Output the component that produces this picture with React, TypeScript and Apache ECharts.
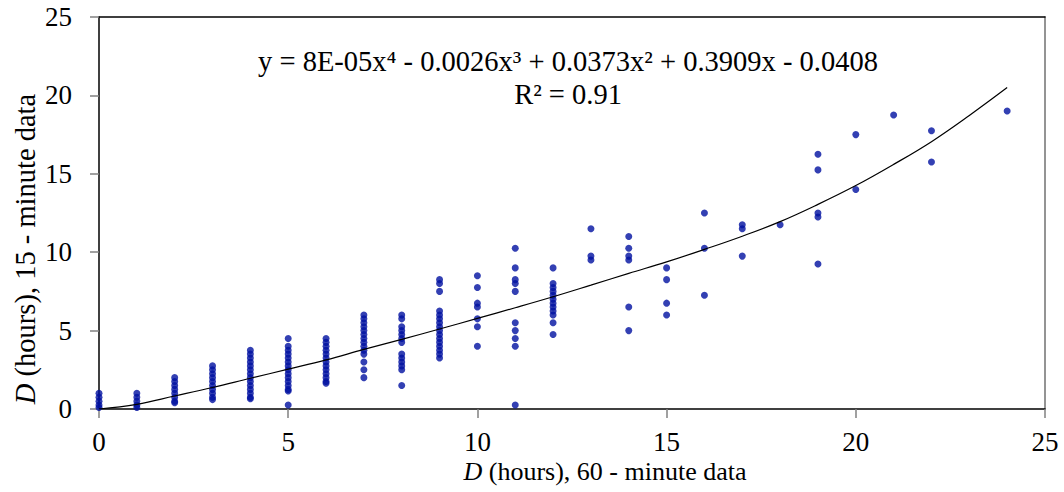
import React, { useEffect, useRef } from "react";
import * as echarts from "echarts";

const FONT = "Liberation Serif";

// x positions of the point columns (60-minute data, hours)
const columnX = [0, 1, 2, 3, 4, 5, 6, 7, 8, 9, 10, 11, 12, 13, 14, 15, 16, 17, 18, 19, 20, 21, 22, 24];
// y values in each column (15-minute data, hours)
const columnY = [
  [0.1, 0.25, 0.5, 0.75, 1.0],
  [0.1, 0.25, 0.5, 0.75, 1.0],
  [0.4, 0.5, 0.75, 1.0, 1.25, 1.5, 1.75, 2.0],
  [0.6, 0.75, 1.0, 1.25, 1.5, 1.75, 2.0, 2.25, 2.5, 2.75],
  [0.65, 0.75, 1.0, 1.25, 1.5, 1.75, 2.0, 2.25, 2.5, 2.75, 3.0, 3.25, 3.5, 3.75],
  [0.25, 1.15, 1.25, 1.5, 1.75, 2.0, 2.25, 2.5, 2.75, 3.0, 3.25, 3.5, 3.75, 4.0, 4.5],
  [1.65, 1.75, 2.0, 2.25, 2.5, 2.75, 3.0, 3.25, 3.5, 3.75, 4.0, 4.25, 4.5],
  [2.0, 2.5, 3.0, 3.5, 3.75, 4.0, 4.25, 4.5, 4.75, 5.0, 5.25, 5.5, 5.75, 6.0],
  [1.5, 2.5, 2.75, 3.0, 3.25, 3.5, 4.25, 4.5, 4.75, 5.0, 5.25, 5.75, 6.0],
  [3.25, 3.5, 3.75, 4.0, 4.25, 4.5, 4.75, 5.0, 5.25, 5.5, 5.75, 6.0, 6.25, 7.5, 8.0, 8.25],
  [4.0, 5.25, 5.75, 6.5, 6.75, 7.75, 8.5],
  [0.25, 4.0, 4.5, 5.0, 5.5, 7.5, 8.0, 8.25, 9.0, 10.25],
  [4.75, 5.5, 6.0, 6.25, 6.5, 6.75, 7.0, 7.25, 7.5, 7.75, 8.0, 9.0],
  [9.5, 9.75, 11.5],
  [5.0, 6.5, 9.5, 9.75, 10.25, 11.0],
  [6.0, 6.75, 8.25, 9.0],
  [7.25, 10.25, 12.5],
  [9.75, 11.5, 11.75],
  [11.75],
  [9.25, 12.25, 12.5, 15.25, 16.25],
  [14.0, 17.5],
  [18.75],
  [15.75, 17.75],
  [19.0],
];

// trend line
const trendX = [0, 1, 2, 3, 4, 5, 6, 7, 8, 9, 10, 11, 12, 13, 14, 15, 16, 17, 18, 19, 20, 21, 22, 23, 24];
const trendY = [0, 0.3, 0.83, 1.37, 1.96, 2.54, 3.13, 3.8, 4.44, 5.1, 5.78, 6.46, 7.16, 7.9, 8.65, 9.38, 10.18, 11.02, 11.95, 13.05, 14.25, 15.6, 17.05, 18.72, 20.5];

const equationText = "{e|y = 8E-05x\u2074 - 0.0026x\u00b3 + 0.0373x\u00b2 + 0.3909x - 0.0408}";
const r2Text = "{e|R\u00b2 = 0.91}";
const xTitle = "{i|D}{n| (hours), 60 - minute data}";
const yTitle = "{yi|D}{yn| (hours), 15 - minute data}";

export default function App() {
  const ref = useRef<HTMLDivElement>(null);
  useEffect(() => {
    if (!ref.current) return;
    const chart = echarts.init(ref.current, undefined, { renderer: "svg" });
    const points: number[][] = [];
    columnX.forEach((x, i) => columnY[i].forEach((y) => points.push([x, y])));
    const trend = trendX.map((x, i) => [x, trendY[i]]);
    const tickRich = { t: { fontFamily: FONT, fontSize: 27, color: "#000", lineHeight: 22 } };
    const axisLabel = {
      color: "#000",
      fontFamily: FONT,
      fontSize: 27,
      formatter: (v: number) => `{t|${v}}`,
      rich: tickRich,
    };
    const textRich = {
      i: { fontFamily: FONT, fontSize: 26, fontStyle: "italic", fill: "#000", color: "#000", lineHeight: 22 },
      n: { fontFamily: FONT, fontSize: 26, fill: "#000", color: "#000", lineHeight: 22 },
      yi: { fontFamily: FONT, fontSize: 28.5, fontStyle: "italic", fill: "#000", color: "#000", lineHeight: 26 },
      yn: { fontFamily: FONT, fontSize: 28.5, fill: "#000", color: "#000", lineHeight: 26 },
      e: { fontFamily: FONT, fontSize: 28.5, fill: "#000", color: "#000", lineHeight: 28 },
    };
    const textStyle = (text: string) => ({
      text,
      fontFamily: FONT,
      fontSize: 26,
      fill: "#000",
      align: "center",
      verticalAlign: "middle",
      rich: textRich,
    });
    chart.setOption({
      animation: false,
      backgroundColor: "#fff",
      textStyle: { fontFamily: FONT },
      grid: { left: 99, right: 19, top: 17, bottom: 83, show: false },
      xAxis: [
        {
          type: "value",
          min: 0,
          max: 25,
          interval: 5,
          splitLine: { show: false },
          axisLine: { show: true, onZero: false, lineStyle: { color: "#000", width: 1.5 } },
          axisTick: { show: true, length: 9, lineStyle: { color: "#808080", width: 1.5 } },
          axisLabel: { ...axisLabel, margin: 22 },
        },
        {
          type: "value",
          position: "top",
          min: 0,
          max: 25,
          splitLine: { show: false },
          axisLine: { show: true, onZero: false, lineStyle: { color: "#000", width: 1.5 } },
          axisTick: { show: false },
          axisLabel: { show: false },
        },
      ],
      yAxis: [
        {
          type: "value",
          min: 0,
          max: 25,
          interval: 5,
          splitLine: { show: false },
          axisLine: { show: true, onZero: false, lineStyle: { color: "#000", width: 1.5 } },
          axisTick: { show: true, length: 9, lineStyle: { color: "#808080", width: 1.5 } },
          axisLabel: { ...axisLabel, margin: 27 },
        },
        {
          type: "value",
          position: "right",
          min: 0,
          max: 25,
          splitLine: { show: false },
          axisLine: { show: true, onZero: false, lineStyle: { color: "#707070", width: 1.5 } },
          axisTick: { show: false },
          axisLabel: { show: false },
        },
      ],
      series: [
        {
          type: "scatter",
          data: points,
          symbol: "circle",
          symbolSize: 7,
          itemStyle: { color: "#0010a0" },
          z: 3,
        },
        {
          type: "line",
          data: trend,
          smooth: 0.4,
          symbol: "none",
          lineStyle: { color: "#000", width: 1.2 },
          z: 4,
        },
      ],
      graphic: [
        { type: "text", x: 568, y: 61, style: textStyle(equationText) },
        { type: "text", x: 568, y: 94, style: textStyle(r2Text) },
        { type: "text", x: 605, y: 471, style: textStyle(xTitle) },
        { type: "text", x: 25, y: 249, rotation: Math.PI / 2, style: textStyle(yTitle) },
      ],
    });
    return () => chart.dispose();
  }, []);
  return (
    <div
      ref={ref}
      style={{ position: "fixed", left: 0, top: 0, width: 1064, height: 492, background: "#fff" }}
    />
  );
}
